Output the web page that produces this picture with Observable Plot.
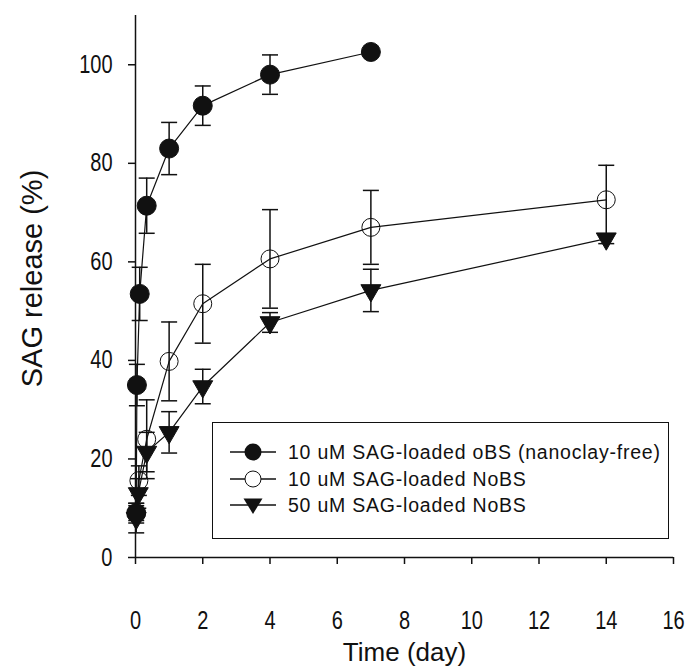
<!DOCTYPE html>
<html>
<head>
<meta charset="utf-8">
<script src="https://cdn.jsdelivr.net/npm/d3@7"></script>
<script src="https://cdn.jsdelivr.net/npm/@observablehq/plot@0.6"></script>
<style>
  body { margin: 0; background: #fff; }
  #wrap { position: relative; width: 700px; height: 666px; font-family: "Liberation Sans", Arial, sans-serif; }
  #wrap > svg { position: absolute; left: 0; top: 0; }
  #legend { position: absolute; left: 212px; top: 422px; width: 457px; height: 117px; border: 1.5px solid #111; box-sizing: border-box; background: #fff; }
  .row { position: absolute; left: 16px; height: 26px; display: flex; align-items: center; font-size: 19.5px; color: #111; letter-spacing: 0.78px; white-space: nowrap; }
  .row svg { margin-right: 11px; }
</style>
</head>
<body>
<div id="wrap"></div>
<script>
// ---- data ----
const seriesNames = [
  "10 uM SAG-loaded oBS (nanoclay-free)",
  "10 uM SAG-loaded NoBS",
  "50 uM SAG-loaded NoBS"
];
const timeFilled = [0.021, 0.042, 0.125, 0.333, 1, 2, 4, 7];
const releaseFilled = [9, 35, 53.5, 71.4, 83, 91.7, 98, 102.6];
const errFilled = [1.5, 4.2, 5.4, 5.6, 5.3, 4, 4, 0.5];

const timeOpen = [0.021, 0.1, 0.333, 1, 2, 4, 7, 14];
const releaseOpen = [9, 15.6, 24, 39.8, 51.5, 60.6, 67, 72.6];
const errOpen = [2, 3, 8, 8, 8, 10, 7.5, 7];

const timeTri = [0.021, 0.083, 0.333, 1, 2, 4, 7, 14];
const releaseTri = [8, 13, 21.4, 25.4, 34.7, 47.7, 54.2, 64.7];
const errTri = [3, 3, 4, 4.2, 3.5, 2, 4.3, 1];

const xTicks = [0, 2, 4, 6, 8, 10, 12, 14, 16];
const yTicks = [0, 20, 40, 60, 80, 100];
const xTitle = "Time (day)";
const yTitle = "SAG release (%)";

// ---- build table ----
function rows(name, ts, vs, es) {
  return ts.map((t, i) => ({ series: name, t, v: vs[i], e: es[i] }));
}
const dFilled = rows(seriesNames[0], timeFilled, releaseFilled, errFilled);
const dOpen = rows(seriesNames[1], timeOpen, releaseOpen, errOpen);
const dTri = rows(seriesNames[2], timeTri, releaseTri, errTri);
const all = [...dFilled, ...dOpen, ...dTri];

const ink = "#111";
const capSymbol = {
  draw(context, size) {
    const w = Math.sqrt(size / Math.PI);
    context.moveTo(-w, 0);
    context.lineTo(w, 0);
  }
};

const chart = Plot.plot({
  width: 700,
  height: 666,
  marginLeft: 135,
  marginRight: 27,
  marginTop: 15,
  marginBottom: 109,
  style: { fontFamily: "Liberation Sans, Arial, sans-serif", background: "#fff", color: ink },
  x: { domain: [0, 16] },
  y: { domain: [0, 110] },
  marks: [
    // axes
    Plot.ruleX([0], { stroke: ink, strokeWidth: 1.5 }),
    Plot.ruleY([0], { stroke: ink, strokeWidth: 1.5 }),
    Plot.axisX({ ticks: xTicks, tickSize: 7, tickPadding: 47, fontSize: 25, stroke: ink, strokeWidth: 1.5, label: null }),
    Plot.axisY({ ticks: yTicks, tickSize: 7, tickPadding: 16, fontSize: 25, stroke: ink, strokeWidth: 1.5, label: null }),
    Plot.text([xTitle], { text: d => d, frameAnchor: "bottom", textAnchor: "middle", dy: 103, fontSize: 26, fill: ink }),
    Plot.text([yTitle], { text: d => d, frameAnchor: "left", textAnchor: "middle", dx: -103, dy: -8, rotate: -90, fontSize: 29, fill: ink }),
    // error bars
    Plot.ruleX(all, { x: "t", y1: d => d.v - d.e, y2: d => d.v + d.e, stroke: ink, strokeWidth: 1.5 }),
    Plot.dot(all, { x: "t", y: d => d.v + d.e, symbol: capSymbol, r: 8, stroke: ink, strokeWidth: 1.5, fill: "none" }),
    Plot.dot(all, { x: "t", y: d => d.v - d.e, symbol: capSymbol, r: 8, stroke: ink, strokeWidth: 1.5, fill: "none" }),
    // lines
    Plot.line(dFilled, { x: "t", y: "v", stroke: ink, strokeWidth: 1.2 }),
    Plot.line(dOpen, { x: "t", y: "v", stroke: ink, strokeWidth: 1.2 }),
    Plot.line(dTri, { x: "t", y: "v", stroke: ink, strokeWidth: 1.2 }),
    // symbols
    Plot.dot(dOpen, { x: "t", y: "v", r: 9, fill: "none", stroke: ink, strokeWidth: 1 }),
    Plot.dot(dTri, { x: "t", y: "v", symbol: "triangle", rotate: 180, r: 7.4, fill: ink, stroke: ink, strokeWidth: 1 }),
    Plot.dot(dFilled, { x: "t", y: "v", r: 9.5, fill: ink, stroke: ink, strokeWidth: 1 })
  ]
});

const wrap = document.getElementById("wrap");
wrap.appendChild(chart);

// condense tick labels horizontally (the reference digits are narrow)
try {
  const svgNS = "http://www.w3.org/2000/svg";
  const groups = [
    ['g[aria-label="x-axis tick label"] text', "center"],
    ['g[aria-label="y-axis tick label"] text', "right"]
  ];
  const svgRect = chart.getBoundingClientRect();
  for (const [sel, mode] of groups) {
    chart.querySelectorAll(sel).forEach(t => {
      const r = t.getBoundingClientRect();
      const ax = (mode === "center" ? r.x + r.width / 2 : r.x + r.width) - svgRect.x;
      const parent = t.parentNode;
      const ctm = parent.getCTM();
      const inv = ctm ? ctm.inverse() : null;
      const p = chart.createSVGPoint();
      p.x = ax; p.y = 0;
      const lp = inv ? p.matrixTransform(inv) : p;
      const g = document.createElementNS(svgNS, "g");
      g.setAttribute("transform", `translate(${lp.x},0) scale(0.8,1) translate(${-lp.x},0)`);
      parent.insertBefore(g, t);
      g.appendChild(t);
    });
  }
} catch (e) { console.error(e); }

// legend
const legend = document.createElement("div");
legend.id = "legend";
const syms = [
  '<circle cx="24" cy="10" r="8.5" fill="#111"/>',
  '<circle cx="24" cy="10" r="8" fill="#fff" stroke="#111" stroke-width="1"/>',
  '<path d="M14.5,3.5 L33.5,3.5 L24,19 Z" fill="#111"/>'
];
const tops = [16, 43, 69];
seriesNames.forEach((name, i) => {
  const row = document.createElement("div");
  row.className = "row";
  row.style.top = tops[i] + "px";
  row.innerHTML = `<svg width="48" height="20"><line x1="1" y1="10" x2="47" y2="10" stroke="#111" stroke-width="1.5"/>${syms[i]}</svg><span>${name}</span>`;
  legend.appendChild(row);
});
wrap.appendChild(legend);
</script>
</body>
</html>
